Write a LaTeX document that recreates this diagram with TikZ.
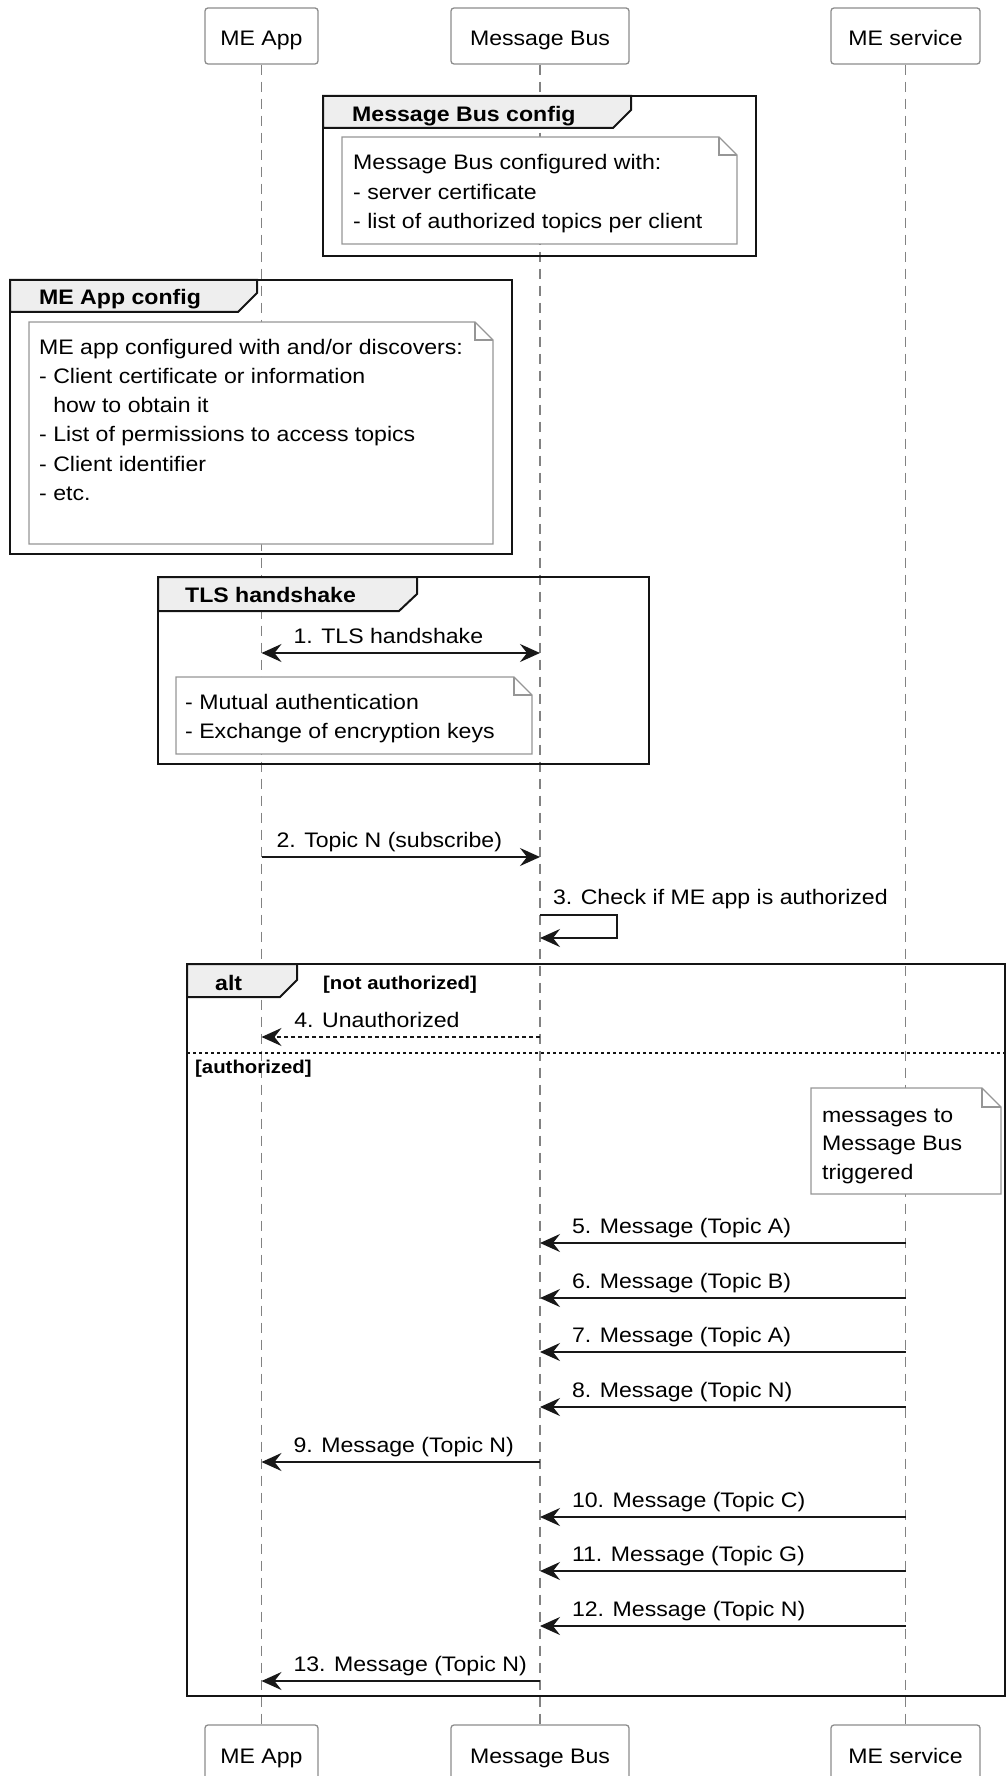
\documentclass[tikz,border=0pt]{standalone}
\usepackage{fontspec}
\setmainfont{Liberation Sans}[FakeStretch=1.1]
\usetikzlibrary{
  arrows.meta,
  calc
}
\definecolor{linegray}{RGB}{24,24,24}
\definecolor{framegray}{RGB}{20,20,20}
\definecolor{lifegray}{RGB}{130,130,130}
\definecolor{boxgray}{RGB}{140,140,140}
\definecolor{notegray}{RGB}{150,150,150}
\definecolor{tabgray}{RGB}{238,238,238}

\begin{document}
\begin{tikzpicture}[
  x=1pt,
  y=-1pt,
  actor/.style={
    draw=boxgray,
    fill=white,
    rounded corners=3pt,
    line width=1.3pt,
    minimum height=56pt,
    inner sep=0pt,
    text height=20pt,
    text depth=0pt,
    font=\fontsize{21}{25}\selectfont
  },
  lifeline/.style={
    draw=lifegray,
    line width=1.3pt,
    dash pattern=on 10pt off 7pt
  },
  frame/.style={
    draw=framegray,
    line width=2.6pt
  },
  tab/.style={
    draw=framegray,
    fill=tabgray,
    line width=2pt
  },
  note/.style={
    draw=notegray,
    fill=white,
    line width=1.3pt
  },
  title/.style={
    anchor=base west,
    inner sep=0pt,
    font=\fontsize{21}{25}\selectfont\bfseries
  },
  guard/.style={
    anchor=base west,
    inner sep=0pt,
    font=\fontsize{18.5}{22}\selectfont\bfseries
  },
  txt/.style={
    anchor=base west,
    inner sep=0pt,
    font=\fontsize{21}{25}\selectfont
  },
  lbl/.style={
    txt,
    yshift=10pt
  },
  msg/.style={
    draw=linegray,
    line width=2pt
  },
  >={Stealth[length=20pt,width=18pt,inset=7pt]}
]
\clip (0,0) rectangle (1007,1776);

% Participants
\node[actor, minimum width=113pt] (app-top) at (261.5,36) {ME App};
\node[actor, minimum width=178pt] (bus-top) at (540,36) {Message Bus};
\node[actor, minimum width=149pt] (svc-top) at (905.5,36) {ME service};
\node[actor, minimum width=113pt] (app-bot) at (261.5,1753) {ME App};
\node[actor, minimum width=178pt] (bus-bot) at (540,1753) {Message Bus};
\node[actor, minimum width=149pt] (svc-bot) at (905.5,1753) {ME service};

\foreach \p in {app,bus,svc} {
  \draw[lifeline] (\p-top) -- (\p-bot);
}

% Message rows on the lifelines
\foreach \n/\y in {1/653,2/857,3/915,4/1037,5/1243,6/1298,7/1352,8/1407,
                   9/1462,10/1517,11/1571,12/1626,13/1681} {
  \coordinate (app\n) at (app-top |- 0,\y);
  \coordinate (bus\n) at (bus-top |- 0,\y);
  \coordinate (svc\n) at (svc-top |- 0,\y);
}
\coordinate (bus3b) at (bus-top |- 0,938);

% Message Bus config
\draw[tab] (323,96) -- (631,96) -- (631,110) -- (613,128) -- (323,128) -- cycle;
\draw[frame] (323,96) rectangle (756,256);
\node[title] (bus-cfg) at (352,122) {Message Bus config};
\draw[note] (342,137) -- (719,137) -- (737,155) -- (737,244) -- (342,244) -- cycle;
\draw[note, fill=none] (719,137) |- (737,155);
\foreach \i/\t in {0/Message Bus configured with:,
                   1/- server certificate,
                   2/- list of authorized topics per client} {
  \node[txt] (bus-note-\i) at (353,{170+29.5*\i}) {\t};
}

% ME App config
\draw[tab] (10,280) -- (257,280) -- (257,293) -- (238,312) -- (10,312) -- cycle;
\draw[frame] (10,280) rectangle (512,554);
\node[title] (app-cfg) at (39,305) {ME App config};
\draw[note] (29,322) -- (475,322) -- (493,340) -- (493,544) -- (29,544) -- cycle;
\draw[note, fill=none] (475,322) |- (493,340);
\foreach \i/\t in {0/{ME app configured with and/or discovers:},
                   1/- Client certificate or information,
                   2/\phantom{- }how to obtain it,
                   3/- List of permissions to access topics,
                   4/- Client identifier,
                   5/- etc.} {
  \node[txt] (app-note-\i) at (39,{354+29.3*\i}) {\t};
}

% TLS handshake
\draw[tab] (158,577) -- (417,577) -- (417,594) -- (399,611) -- (158,611) -- cycle;
\draw[frame] (158,577) rectangle (649,764);
\node[title] (tls) at (185,602) {TLS handshake};
\draw[msg, <->] (app1) -- (bus1) node[lbl, pos=0, xshift=31pt] {1. TLS handshake};
\draw[note] (176,677) -- (514,677) -- (532,695) -- (532,754) -- (176,754) -- cycle;
\draw[note, fill=none] (514,677) |- (532,695);
\foreach \i/\t in {0/- Mutual authentication,
                   1/- Exchange of encryption keys} {
  \node[txt] (tls-note-\i) at (185,{709+29*\i}) {\t};
}

% Subscribe and check
\draw[msg, ->] (app2) -- (bus2) node[lbl, pos=0, xshift=14pt] {2. Topic N (subscribe)};
\draw[msg, ->] (bus3) node[lbl, xshift=12pt, yshift=1pt] {3. Check if ME app is authorized}
  -- ++(77,0) |- (bus3b);

% alt
\draw[tab] (187,964) -- (297,964) -- (297,980) -- (280,997) -- (187,997) -- cycle;
\draw[frame] (187,964) rectangle (1005,1696);
\node[title] (alt) at (215,990) {alt};
\node[guard] (not-auth) at (323,989) {[not authorized]};
\draw[msg, ->, dash pattern=on 4pt off 3pt, line width=1.6pt] (bus4) -- (app4)
  node[lbl, pos=1, xshift=32pt] {4. Unauthorized};
\draw[draw=framegray, line width=1.6pt, dash pattern=on 3pt off 3pt] (187,1053) -- (1005,1053);
\node[guard] (auth) at (195,1073) {[authorized]};

\draw[note] (811,1088) -- (982,1088) -- (1001,1107) -- (1001,1194) -- (811,1194) -- cycle;
\draw[note, fill=none] (982,1088) |- (1001,1107);
\foreach \i/\t in {0/messages to,
                   1/Message Bus,
                   2/triggered} {
  \node[txt] (svc-note-\i) at (822,{1122+28.5*\i}) {\t};
}

% Messages
\foreach \n/\src/\dst/\topic in {5/svc/bus/A, 6/svc/bus/B, 7/svc/bus/A, 8/svc/bus/N,
                                 9/bus/app/N, 10/svc/bus/C, 11/svc/bus/G, 12/svc/bus/N,
                                 13/bus/app/N} {
  \draw[msg, ->] (\src\n) -- (\dst\n)
    node[lbl, pos=1, xshift=31pt] {\n. Message (Topic \topic)};
}

\end{tikzpicture}
\end{document}
